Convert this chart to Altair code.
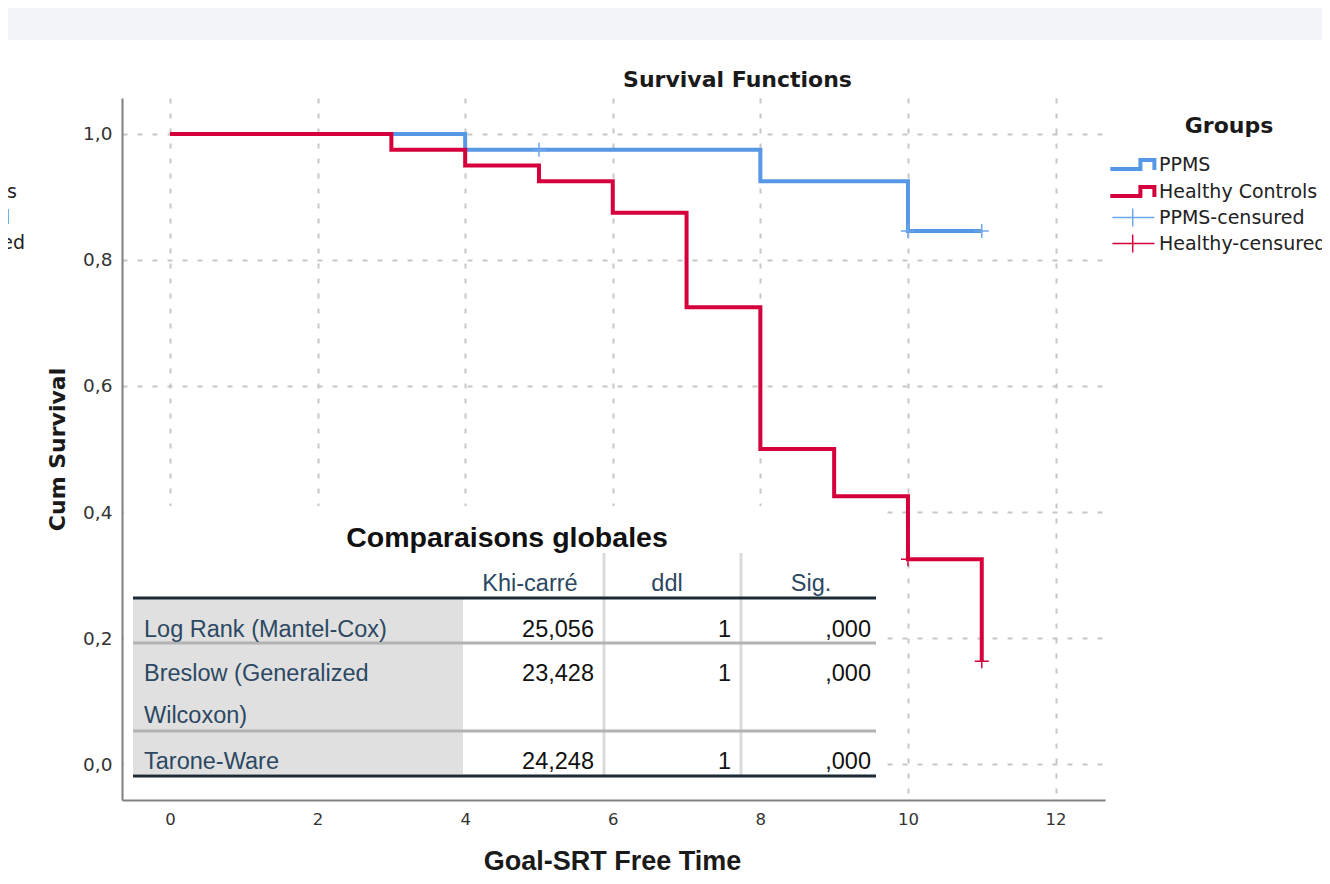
import altair as alt
import pandas as pd

# ---------------- data ----------------
ppms_t = [0, 4, 8, 10, 11]
ppms_s = [1.0, 0.975, 0.925, 0.846, 0.846]
healthy_t = [0, 3, 4, 5, 6, 7, 8, 9, 10, 11]
healthy_s = [1.0, 0.975, 0.95, 0.925, 0.875, 0.725, 0.5, 0.425, 0.325, 0.163]

ppms_cens_t = [5, 10, 11]
ppms_cens_s = [0.975, 0.846, 0.846]
healthy_cens_t = [10, 11]
healthy_cens_s = [0.325, 0.163]

groups = ["PPMS", "Healthy Controls"]
cens_groups = ["PPMS-censured", "Healthy-censured"]

x_ticks = [0, 2, 4, 6, 8, 10, 12]
y_ticks = [0.0, 0.2, 0.4, 0.6, 0.8, 1.0]

table_title = "Comparaisons globales"
table_headers = ["Khi-carré", "ddl", "Sig."]
table_tests = ["Log Rank (Mantel-Cox)", "Breslow (Generalized", "Wilcoxon)", "Tarone-Ware"]
table_khi = ["25,056", "23,428", "24,248"]
table_ddl = ["1", "1", "1"]
table_sig = [",000", ",000", ",000"]

cut_legend_labels = ["Healthy Controls", "PPMS-censured", "Healthy-censured"]

# ---------------- styles ----------------
BLUE = "#5697e6"
RED = "#d5003b"
TXT = "#2c4862"
X_DOM = [-0.65, 12.67]
Y_DOM = [-0.0571, 1.0571]
W, H = 983, 702

STEP_PATH = "M-5.6,0.64L-1.3,0.64L-1.3,-0.64L0.7,-0.64L0.7,0.8"
CROSS_LEG = "M-5.3,0L0.7,0M-2.4,-1.3L-2.4,1.3"
CROSS = "M-1,0L1,0M0,-1L0,1"


# conversion of the overlay table's layout (page pixels) into data units
def tx(px):
    return X_DOM[0] + (px - 122) / W * (X_DOM[1] - X_DOM[0])


def sy(py):
    return Y_DOM[1] - (py - 98) / H * (Y_DOM[1] - Y_DOM[0])


xs = alt.Scale(domain=X_DOM, nice=False, zero=False)
ys = alt.Scale(domain=Y_DOM, nice=False, zero=False)

lines_df = pd.concat([
    pd.DataFrame({"t": ppms_t, "s": ppms_s, "g": groups[0]}),
    pd.DataFrame({"t": healthy_t, "s": healthy_s, "g": groups[1]}),
])
cens_df = pd.concat([
    pd.DataFrame({"t": ppms_cens_t, "s": ppms_cens_s, "g": cens_groups[0]}),
    pd.DataFrame({"t": healthy_cens_t, "s": healthy_cens_s, "g": cens_groups[1]}),
])

x_axis = alt.Axis(values=x_ticks, title="Goal-SRT Free Time", format="d",
                  titleFont="Liberation Sans", titleFontSize=27, titleFontWeight="bold",
                  titleColor="#1a1a1a", titleX=490, titleY=61, titleBaseline="middle",
                  titleAlign="center", labelFont="DejaVu Sans", labelFontSize=16.5,
                  labelColor="#333333", labelPadding=11)
y_axis = alt.Axis(values=y_ticks, title="Cum Survival",
                  labelExpr="replace(format(datum.value, '.1f'), '.', ',')",
                  titleFont="DejaVu Sans", titleFontSize=22, titleFontWeight="bold",
                  titleColor="#1a1a1a", titleX=-65, titleY=351, titleAngle=270,
                  titleBaseline="middle", titleAlign="center",
                  labelFont="DejaVu Sans", labelFontSize=18.5, labelColor="#333333",
                  labelPadding=10)

band = alt.Chart(alt.Data(values=[{}])).mark_rect(color="#f1f4f9").encode(
    x=alt.value(-114), x2=alt.value(1200), y=alt.value(-90), y2=alt.value(-58))

lines = alt.Chart(lines_df).mark_line(interpolate="step-after", strokeWidth=4,
                                      strokeJoin="miter").encode(
    x=alt.X("t:Q", scale=xs, axis=x_axis),
    y=alt.Y("s:Q", scale=ys, axis=y_axis),
    color=alt.Color("g:N", scale=alt.Scale(domain=groups, range=[BLUE, RED]),
                    legend=alt.Legend(title="Groups", orient="none", legendX=1018, legendY=18,
                                      symbolType=STEP_PATH, symbolSize=196,
                                      symbolStrokeWidth=4, symbolFillColor="transparent",
                                      titleFont="DejaVu Sans", titleFontSize=22,
                                      titleFontWeight="bold", titleColor="#1a1a1a",
                                      titleAnchor="middle", titlePadding=17,
                                      labelFont="DejaVu Sans", labelFontSize=19,
                                      labelColor="#222222", labelOffset=0, labelLimit=400,
                                      rowPadding=0, padding=0)),
)

cens = alt.Chart(cens_df).mark_point(shape=CROSS, size=196, filled=False, strokeWidth=1.5,
                                     opacity=1).encode(
    x=alt.X("t:Q", scale=xs),
    y=alt.Y("s:Q", scale=ys),
    color=alt.Color("g:N", scale=alt.Scale(domain=cens_groups, range=["#6ea6ea", RED]),
                    legend=alt.Legend(title=None, orient="none", legendX=1018, legendY=110,
                                      symbolType=CROSS_LEG, symbolSize=196,
                                      symbolStrokeWidth=1.5, symbolFillColor="transparent",
                                      labelFont="DejaVu Sans", labelFontSize=19,
                                      labelColor="#222222", labelOffset=0, labelLimit=400,
                                      rowPadding=1, padding=0)),
)

# ---------------- overlay table ----------------
def rect_layer(x1, x2, y1, y2, color):
    d = pd.DataFrame({"x1": [tx(x1)], "x2": [tx(x2)], "y1": [sy(y1)], "y2": [sy(y2)]})
    return alt.Chart(d).mark_rect(color=color).encode(
        x=alt.X("x1:Q", scale=xs), x2="x2", y=alt.Y("y1:Q", scale=ys), y2="y2")


def hrules(ys_px, color, width):
    d = pd.DataFrame({"x1": tx(133), "x2": tx(876), "y": [sy(v) for v in ys_px]})
    return alt.Chart(d).mark_rule(color=color, strokeWidth=width).encode(
        x=alt.X("x1:Q", scale=xs), x2="x2", y=alt.Y("y:Q", scale=ys))


vsep_df = pd.DataFrame({"x": [tx(604), tx(741)], "y1": sy(553), "y2": sy(777)})
vseps = alt.Chart(vsep_df).mark_rule(color="#dadada", strokeWidth=3).encode(
    x=alt.X("x:Q", scale=xs), y=alt.Y("y1:Q", scale=ys), y2="y2")

row_base = [637, 681, 723, 769]
value_rows = [637, 681, 769]

title_df = pd.DataFrame({"x": [tx(507)], "y": [sy(547)], "txt": [table_title]})
title_t = alt.Chart(title_df).mark_text(font="Liberation Sans", fontSize=28.5, fontWeight="bold",
                                        color="#111111", baseline="alphabetic",
                                        align="center").encode(
    x=alt.X("x:Q", scale=xs), y=alt.Y("y:Q", scale=ys), text="txt:N")

head_df = pd.DataFrame({"x": [tx(530), tx(667), tx(811)], "y": sy(591), "txt": table_headers})
head_t = alt.Chart(head_df).mark_text(font="Liberation Sans", fontSize=23.5, color=TXT,
                                      baseline="alphabetic", align="center").encode(
    x=alt.X("x:Q", scale=xs), y=alt.Y("y:Q", scale=ys), text="txt:N")

lab_df = pd.DataFrame({"x": tx(144), "y": [sy(v) for v in row_base], "txt": table_tests})
lab_t = alt.Chart(lab_df).mark_text(font="Liberation Sans", fontSize=23.5, color=TXT,
                                    baseline="alphabetic", align="left").encode(
    x=alt.X("x:Q", scale=xs), y=alt.Y("y:Q", scale=ys), text="txt:N")

val_df = pd.concat([
    pd.DataFrame({"x": tx(594), "y": [sy(v) for v in value_rows], "txt": table_khi}),
    pd.DataFrame({"x": tx(731), "y": [sy(v) for v in value_rows], "txt": table_ddl}),
    pd.DataFrame({"x": tx(871), "y": [sy(v) for v in value_rows], "txt": table_sig}),
])
val_t = alt.Chart(val_df).mark_text(font="Liberation Sans", fontSize=23.5, color="#111111",
                                    baseline="alphabetic", align="right").encode(
    x=alt.X("x:Q", scale=xs), y=alt.Y("y:Q", scale=ys), text="txt:N")

# cut-off copy of the legend at the left page edge
cut_df = pd.DataFrame({"px": [-105, -112, -97], "py": [94, 120, 145], "txt": cut_legend_labels})
cut_t = alt.Chart(cut_df).mark_text(font="DejaVu Sans", fontSize=19, color="#222222",
                                    align="right", baseline="middle").encode(
    x=alt.X("px:Q", scale=None), y=alt.Y("py:Q", scale=None), text="txt:N")

chart = alt.layer(
    band, lines, cens,
    rect_layer(124, 881, 506, 797, "#ffffff"),
    rect_layer(133, 463, 599, 774, "#e0e0e0"),
    vseps,
    hrules([643, 731], "#b2b2b2", 3),
    hrules([598, 776], "#1c2a35", 3),
    title_t, head_t, lab_t, val_t, cut_t,
).resolve_scale(color="independent").properties(
    width=W, height=H,
    autosize=alt.AutoSizeParams(type="none"),
    padding={"left": 114, "top": 90, "right": 217, "bottom": 76},
    title=alt.TitleParams(text="Survival Functions", font="DejaVu Sans", fontSize=22,
                          fontWeight="bold", color="#1a1a1a", anchor="middle",
                          frame="group", dx=124, offset=-84),
).configure_view(stroke=None).configure_axis(
    domainColor="#808080", domainWidth=2, ticks=False, grid=True,
    gridColor="#c6c6c6", gridDash=[5, 10], gridWidth=2,
)

chart.save("out.html", embed_options={"renderer": "svg", "actions": False})
